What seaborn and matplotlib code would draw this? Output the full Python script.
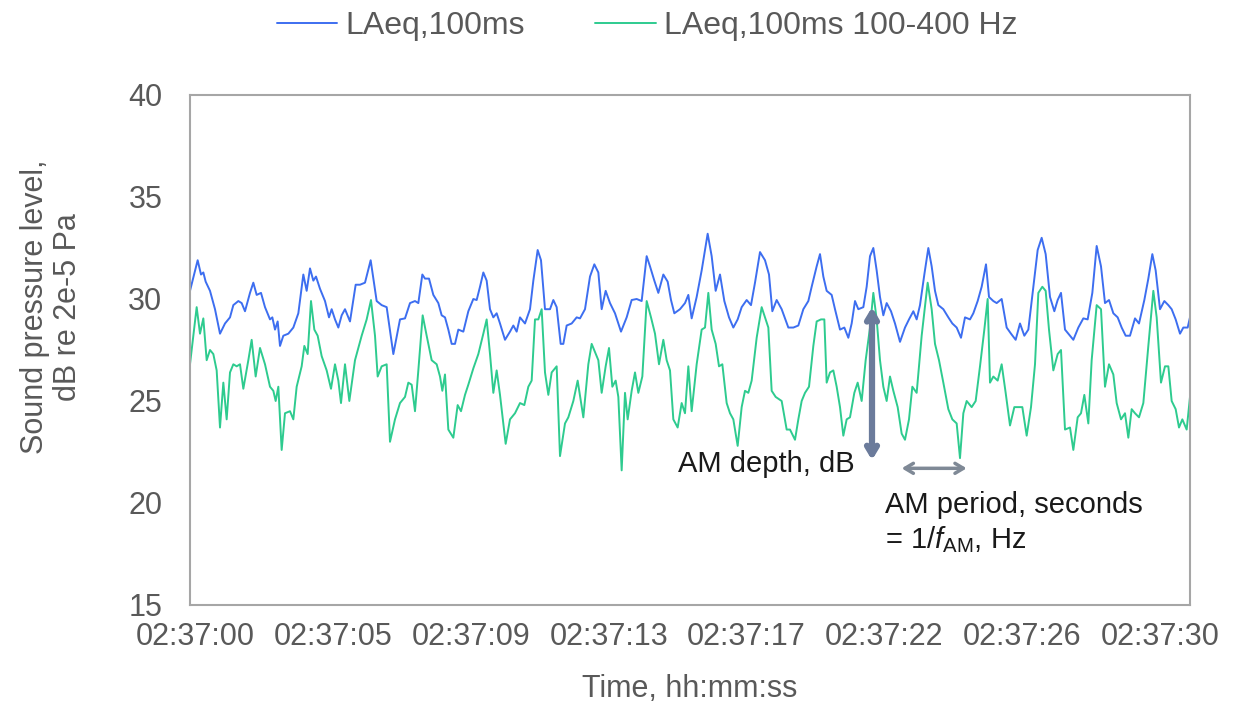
import matplotlib
matplotlib.use("Agg")
import matplotlib.pyplot as plt
import seaborn as sns
import pandas as pd

# ---- data (seconds after 02:37:00, dB) ----
blue_t = [0.0, 0.23, 0.33, 0.4, 0.47, 0.6, 0.75, 0.9, 1.05, 1.2, 1.3, 1.45, 1.55, 1.65, 1.8, 1.9, 2.0, 2.13, 2.25, 2.4,
          2.47, 2.55, 2.63, 2.7, 2.8, 2.95, 3.1, 3.25, 3.4, 3.5, 3.6, 3.7, 3.78, 3.9, 4.05, 4.17, 4.25, 4.35, 4.45, 4.55,
          4.65, 4.8, 4.97, 5.1, 5.25, 5.42, 5.6, 5.75, 5.9, 6.1, 6.3, 6.45, 6.6, 6.75, 6.85, 6.97, 7.05, 7.17, 7.3, 7.45,
          7.55, 7.65, 7.75, 7.85, 7.95, 8.05, 8.2, 8.35, 8.5, 8.6, 8.7, 8.8, 8.9, 9.0, 9.1, 9.2, 9.3, 9.45, 9.6, 9.7,
          9.8, 9.9, 10.05, 10.2, 10.3, 10.43, 10.53, 10.65, 10.8, 10.9, 11.0, 11.12, 11.2, 11.3, 11.45, 11.6, 11.7, 11.85,
          12.0, 12.13, 12.25, 12.35, 12.47, 12.6, 12.75, 12.93, 13.1, 13.25, 13.4, 13.55, 13.7, 13.8, 13.93, 14.05, 14.2,
          14.33, 14.43, 14.53, 14.7, 14.85, 14.95, 15.05, 15.2, 15.35, 15.53, 15.65, 15.77, 15.9, 16.03, 16.17, 16.3,
          16.43, 16.55, 16.7, 16.83, 16.95, 17.1, 17.25, 17.37, 17.47, 17.6, 17.75, 17.85, 17.95, 18.1, 18.25, 18.4,
          18.55, 18.65, 18.8, 18.9, 19.0, 19.1, 19.25, 19.35, 19.5, 19.63, 19.75, 19.85, 19.95, 20.05, 20.2, 20.3, 20.4,
          20.5, 20.6, 20.7, 20.8, 20.9, 21.03, 21.15, 21.3, 21.45, 21.57, 21.7, 21.8, 21.9, 22.03, 22.15, 22.25, 22.35,
          22.45, 22.6, 22.75, 22.87, 23.0, 23.13, 23.25, 23.4, 23.5, 23.63, 23.75, 23.88, 23.97, 24.1, 24.2, 24.35, 24.5,
          24.63, 24.77, 24.9, 25.03, 25.15, 25.3, 25.43, 25.55, 25.67, 25.8, 25.93, 26.03, 26.13, 26.25, 26.4, 26.5,
          26.65, 26.8, 26.93, 27.07, 27.2, 27.33, 27.45, 27.57, 27.7, 27.83, 27.95, 28.07, 28.2, 28.35, 28.47, 28.63,
          28.75, 28.87, 28.97, 29.1, 29.23, 29.35, 29.45, 29.57, 29.7, 29.8, 29.93, 30.0]
blue_v = [30.4, 31.9, 31.2, 31.3, 30.85, 30.4, 29.5, 28.3, 28.8, 29.1, 29.7, 29.9, 29.8, 29.4, 30.3, 30.8, 30.2, 30.3, 29.6, 29.0,
          29.1, 28.5, 28.9, 27.7, 28.2, 28.3, 28.6, 29.3, 31.2, 30.4, 31.5, 30.9, 31.1, 30.5, 29.9, 29.1, 29.5, 29.0, 28.6, 29.2,
          29.5, 28.9, 30.7, 30.7, 30.8, 31.9, 29.9, 29.7, 29.6, 27.3, 29.0, 29.05, 29.8, 29.9, 29.8, 31.2, 31.0, 31.0, 30.2, 29.8,
          29.2, 29.1, 28.5, 27.8, 27.8, 28.5, 28.4, 29.4, 30.0, 29.95, 30.6, 31.3, 30.9, 29.5, 29.1, 29.3, 28.8, 28.0, 28.4, 28.7,
          28.4, 29.1, 28.8, 29.5, 30.9, 32.4, 31.9, 29.5, 29.5, 29.95, 29.6, 27.8, 27.8, 28.7, 28.8, 29.1, 29.05, 29.5,
          31.1, 31.7, 31.3, 29.5, 30.4, 29.8, 29.3, 28.4, 29.1, 29.95, 30.0, 29.9, 32.1, 31.6, 30.9, 30.3, 31.2,
          30.85, 29.95, 29.3, 29.5, 29.8, 30.2, 29.05, 30.1, 31.4, 33.2, 32.1, 30.4, 31.2, 29.9, 29.1, 28.6,
          29.0, 29.6, 29.95, 29.7, 30.8, 32.3, 31.9, 31.2, 29.4, 29.95, 29.5, 29.05, 28.6, 28.6, 28.7, 29.5,
          29.9, 30.6, 31.6, 32.2, 31.1, 30.4, 30.2, 29.5, 28.5, 28.6, 28.1, 28.8, 29.9, 29.5, 29.6, 30.6, 32.1,
          32.5, 31.4, 30.1, 29.2, 29.8, 29.4, 28.8, 27.9, 28.6, 29.0, 29.4, 29.0, 29.7, 31.2, 32.5, 31.6, 30.4,
          29.7, 29.5, 29.1, 28.8, 28.6, 28.1, 29.1, 29.0, 29.3, 29.9, 30.6, 31.7, 30.1, 29.9, 29.8, 30.0, 28.6,
          28.3, 28.0, 28.8, 28.2, 28.5, 30.6, 32.4, 33.0, 32.2, 30.1, 29.4, 29.95, 30.3, 28.5, 28.2, 28.0,
          28.6, 29.05, 29.0, 30.3, 32.6, 31.6, 29.8, 29.95, 29.3, 29.1, 28.6, 28.2, 28.2, 29.05, 28.8, 29.95,
          31.0, 32.2, 31.4, 29.5, 29.9, 29.7, 29.5, 29.0, 28.3, 28.6, 28.6, 29.1]

green_t = [0.0, 0.2, 0.3, 0.4, 0.5, 0.6, 0.7, 0.8, 0.9, 1.0, 1.1, 1.2, 1.3, 1.4, 1.5, 1.6, 1.75, 1.85, 1.97, 2.1, 2.25,
           2.4, 2.5, 2.57, 2.65, 2.75, 2.85, 3.0, 3.1, 3.2, 3.35, 3.43, 3.53, 3.63, 3.73, 3.83, 3.95, 4.1, 4.23, 4.35,
           4.45, 4.53, 4.65, 4.78, 4.95, 5.15, 5.3, 5.43, 5.55, 5.63, 5.75, 5.9, 6.0, 6.15, 6.3, 6.45, 6.55, 6.65, 6.75,
           6.85, 6.98, 7.1, 7.25, 7.4, 7.5, 7.57, 7.65, 7.75, 7.9, 8.03, 8.13, 8.25, 8.35, 8.5, 8.65, 8.8, 8.9, 9.0,
           9.1, 9.2, 9.3, 9.47, 9.6, 9.75, 9.9, 10.03, 10.15, 10.25, 10.35, 10.45, 10.55, 10.65, 10.75, 10.85, 11.0,
           11.1, 11.25, 11.35, 11.5, 11.63, 11.8, 11.95, 12.05, 12.15, 12.25, 12.35, 12.47, 12.57, 12.67, 12.77, 12.85,
           12.95, 13.05, 13.13, 13.25, 13.35, 13.45, 13.57, 13.7, 13.83, 13.95, 14.07, 14.2, 14.3, 14.4, 14.5, 14.63,
           14.75, 14.85, 14.95, 15.05, 15.2, 15.35, 15.45, 15.55, 15.65, 15.77, 15.87, 15.97, 16.1, 16.2, 16.3, 16.43,
           16.55, 16.65, 16.75, 16.85, 17.0, 17.15, 17.25, 17.35, 17.45, 17.57, 17.75, 17.9, 18.0, 18.15, 18.25, 18.35,
           18.45, 18.57, 18.7, 18.8, 18.93, 19.03, 19.1, 19.2, 19.3, 19.4, 19.5, 19.6, 19.7, 19.8, 19.93, 20.03, 20.15,
           20.27, 20.4, 20.5, 20.6, 20.7, 20.8, 20.9, 21.0, 21.1, 21.23, 21.35, 21.45, 21.57, 21.67, 21.8, 21.95, 22.13,
           22.25, 22.35, 22.47, 22.6, 22.75, 22.87, 23.0, 23.1, 23.2, 23.3, 23.45, 23.57, 23.7, 23.83, 23.93, 24.0, 24.1,
           24.23, 24.35, 24.47, 24.6, 24.73, 24.85, 24.97, 25.1, 25.23, 25.35, 25.45, 25.57, 25.67, 25.77, 25.9, 26.03,
           26.13, 26.25, 26.4, 26.5, 26.63, 26.73, 26.83, 26.95, 27.05, 27.2, 27.33, 27.45, 27.57, 27.7, 27.8, 27.93,
           28.05, 28.15, 28.25, 28.35, 28.47, 28.6, 28.75, 28.9, 29.0, 29.13, 29.25, 29.35, 29.45, 29.57, 29.67, 29.77,
           29.9, 30.0]
green_v = [26.8, 29.6, 28.3, 29.05, 27.0, 27.5, 27.3, 26.5, 23.7, 25.9, 24.1, 26.4, 26.8, 26.7, 26.8, 25.6, 27.0, 28.0, 26.2, 27.6, 26.8,
           25.7, 25.5, 25.0, 25.7, 22.6, 24.4, 24.5, 24.1, 25.7, 26.7, 27.7, 27.3, 29.9, 28.5, 28.2, 27.2, 26.5, 25.6, 26.8,
           26.0, 24.9, 26.8, 25.0, 27.0, 28.2, 29.0, 29.95, 28.2, 26.2, 26.7, 26.8, 23.0, 24.1, 24.9, 25.2, 25.9, 25.8, 24.5,
           26.5, 29.2, 28.2, 27.0, 26.8, 26.2, 25.5, 26.3, 23.6, 23.2, 24.8, 24.5, 25.3, 25.8, 26.6, 27.3, 28.3, 29.0, 27.3,
           25.4, 26.5, 25.3, 22.9, 24.1, 24.4, 24.9, 24.8, 25.7, 26.0, 29.0, 29.0, 29.5, 26.4, 25.3, 26.4, 26.7,
           22.3, 23.9, 24.2, 25.0, 26.0, 24.2, 26.8, 27.8, 27.4, 27.0, 25.4, 26.7, 27.6, 25.7, 26.0, 25.2,
           21.6, 25.4, 24.1, 25.5, 26.4, 25.4, 26.2, 29.9, 29.1, 28.3, 26.8, 28.0, 27.0, 26.5, 24.1, 23.7,
           24.9, 24.4, 26.7, 24.5, 26.8, 28.5, 28.6, 30.3, 28.5, 27.8, 26.7, 26.8, 24.9, 24.4, 24.1, 22.8,
           24.7, 25.5, 25.4, 26.0, 28.1, 29.6, 29.1, 28.6, 25.5, 25.2, 25.0, 23.6, 23.6, 23.1, 24.1, 25.0,
           25.4, 25.7, 27.7, 28.9, 29.0, 29.0, 25.9, 26.4, 26.5, 25.7, 24.7, 23.3, 24.1, 24.2, 25.4, 25.9, 25.0,
           27.0, 28.6, 30.3, 29.0, 27.0, 25.7, 25.0, 26.2, 25.5, 24.7, 23.4, 23.1, 24.1, 25.7, 25.4, 28.2, 30.8,
           29.5, 27.8, 27.0, 25.9, 24.6, 24.1, 23.9, 22.2, 24.4, 25.0, 24.7, 25.0, 26.7, 28.5, 30.0, 25.9, 26.2,
           26.0, 26.8, 25.4, 23.8, 24.7, 24.7, 24.7, 23.3, 24.7, 26.8, 30.3, 30.6, 30.4, 28.5, 26.5, 27.3,
           27.5, 23.6, 23.7, 22.6, 24.2, 24.4, 25.3, 23.9, 27.0, 29.7, 29.5, 25.7, 26.8, 26.3, 24.9, 24.1,
           24.4, 23.2, 24.6, 24.4, 24.2, 24.9, 27.7, 30.4, 29.1, 25.9, 26.7, 26.7, 25.0, 24.6, 23.7, 24.1,
           23.6, 25.2]

series_names = ["LAeq,100ms", "LAeq,100ms 100-400 Hz"]
tick_labels = ["02:37:00", "02:37:05", "02:37:09", "02:37:13", "02:37:17", "02:37:22", "02:37:26", "02:37:30"]
y_ticks = [15, 20, 25, 30, 35, 40]

# ---- build long table ----
df = pd.concat([
    pd.DataFrame({"t": blue_t, "level": blue_v, "series": series_names[0]}),
    pd.DataFrame({"t": green_t, "level": green_v, "series": series_names[1]}),
], ignore_index=True)

sns.set_theme(style="white")
plt.rcParams["font.family"] = ["Liberation Sans", "DejaVu Sans"]
plt.rcParams["mathtext.fontset"] = "custom"
plt.rcParams["mathtext.rm"] = "Liberation Sans"
plt.rcParams["mathtext.it"] = "Liberation Sans:italic"

fig = plt.figure(figsize=(12.35, 7.13), dpi=100)
ax = fig.add_axes([190 / 1235, 1 - 605 / 713, 1000 / 1235, 510 / 713])

palette = {series_names[0]: "#3d6ef0", series_names[1]: "#2ecb8f"}
sns.lineplot(data=df, x="t", y="level", hue="series", palette=palette,
             estimator=None, sort=True, linewidth=1.4, ax=ax, legend=False)

ax.set_xlim(0, 30)
ax.set_ylim(15, 40)
ax.set_yticks(y_ticks)
tick_pos = [0.15 + 4.137 * i for i in range(len(tick_labels))]
ax.set_xticks(tick_pos)
ax.set_xticklabels(tick_labels)
txt = "#595959"
ax.tick_params(axis="x", length=0, pad=12, labelsize=22, labelcolor=txt)
ax.tick_params(axis="y", length=0, pad=20, labelsize=22, labelcolor=txt)
for s in ax.spines.values():
    s.set_color("#a6a6a6")
    s.set_linewidth(1.5)

ax.set_xlabel("Time, hh:mm:ss", fontsize=22, color=txt)
ax.xaxis.set_label_coords(0.5, -0.135)
ax.set_ylabel("Sound pressure level,\ndB re 2e-5 Pa", fontsize=22, color=txt, linespacing=1.15)
ax.yaxis.set_label_coords(-0.107, 0.585)

# legend
from matplotlib.lines import Line2D
handles = [Line2D([], [], color=palette[n], lw=1.4) for n in series_names]
fig.legend(handles, series_names, loc="center", bbox_to_anchor=(0.524, 0.963), ncol=2,
           frameon=False, fontsize=23, handlelength=1.9, handletextpad=0.25, columnspacing=2.2,
           labelcolor=txt)

# annotations
ax.annotate("", xy=(20.46, 29.6), xytext=(20.46, 22.1),
            arrowprops=dict(arrowstyle="<->,head_length=0.5,head_width=0.3", color="#6b7b9b", lw=4.5,
                            shrinkA=0, shrinkB=0))
ax.annotate("", xy=(21.35, 21.7), xytext=(23.3, 21.7),
            arrowprops=dict(arrowstyle="<->,head_length=0.5,head_width=0.3", color="#7f8996", lw=2.5,
                            shrinkA=0, shrinkB=0))
ax.text(14.64, 21.9, "AM depth, dB", fontsize=21, color="#1a1a1a", ha="left", va="center")
ax.text(20.85, 19.9, "AM period, seconds", fontsize=21, color="#1a1a1a", ha="left", va="center")
ax.text(20.85, 18.2, r"= 1/$f_{\mathrm{AM}}$, Hz", fontsize=21, color="#1a1a1a", ha="left", va="center")

fig.savefig("out.png", dpi=100)
